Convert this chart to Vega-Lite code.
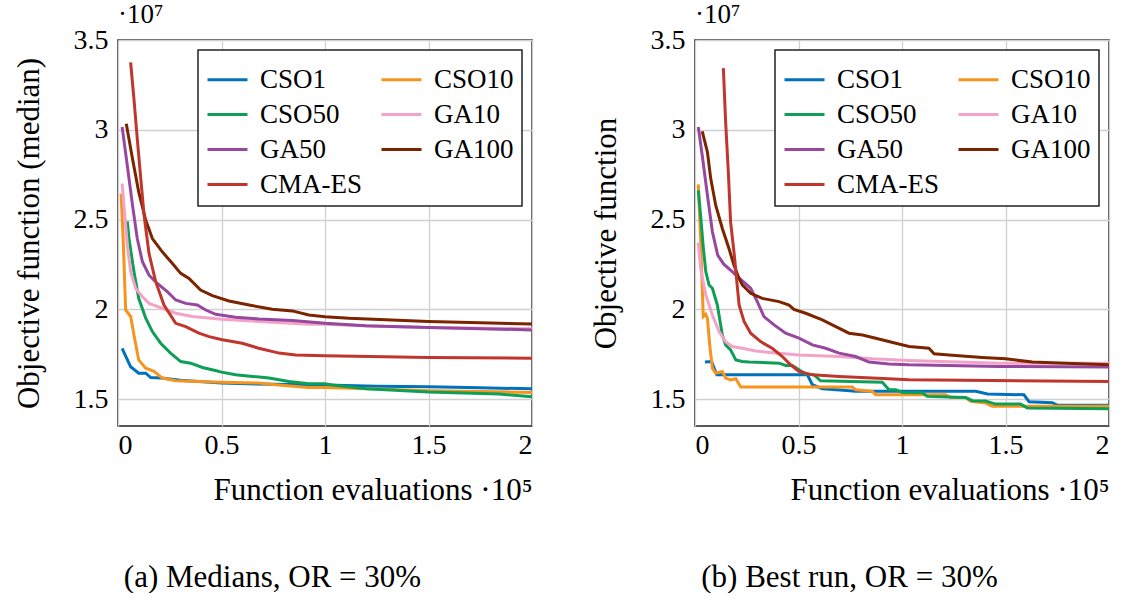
{
  "$schema": "https://vega.github.io/schema/vega-lite/v6.json",
  "background": "white",
  "padding": {"left": 12, "top": 0, "right": 2, "bottom": 0},
  "datasets": {
    "medians": [
      {"alg":"CSO1","x":0.02,"y":1.783},{"alg":"CSO1","x":0.061,"y":1.68},{"alg":"CSO1","x":0.10,"y":1.644},{"alg":"CSO1","x":0.134,"y":1.644},{"alg":"CSO1","x":0.158,"y":1.62},{"alg":"CSO1","x":0.21,"y":1.617},{"alg":"CSO1","x":0.3,"y":1.605},{"alg":"CSO1","x":0.5,"y":1.589},{"alg":"CSO1","x":0.75,"y":1.582},{"alg":"CSO1","x":1.0,"y":1.578},{"alg":"CSO1","x":1.25,"y":1.572},{"alg":"CSO1","x":1.5,"y":1.568},{"alg":"CSO1","x":1.75,"y":1.563},{"alg":"CSO1","x":2.0,"y":1.557},
      {"alg":"CSO10","x":0.015,"y":2.644},{"alg":"CSO10","x":0.025,"y":2.39},{"alg":"CSO10","x":0.037,"y":1.996},{"alg":"CSO10","x":0.061,"y":1.96},{"alg":"CSO10","x":0.077,"y":1.857},{"alg":"CSO10","x":0.10,"y":1.718},{"alg":"CSO10","x":0.134,"y":1.672},{"alg":"CSO10","x":0.174,"y":1.654},{"alg":"CSO10","x":0.214,"y":1.617},{"alg":"CSO10","x":0.279,"y":1.602},{"alg":"CSO10","x":0.5,"y":1.594},{"alg":"CSO10","x":0.68,"y":1.589},{"alg":"CSO10","x":0.76,"y":1.58},{"alg":"CSO10","x":0.92,"y":1.565},{"alg":"CSO10","x":1.0,"y":1.565},{"alg":"CSO10","x":1.25,"y":1.556},{"alg":"CSO10","x":1.5,"y":1.546},{"alg":"CSO10","x":1.75,"y":1.542},{"alg":"CSO10","x":2.0,"y":1.537},
      {"alg":"CSO50","x":0.045,"y":2.49},{"alg":"CSO50","x":0.053,"y":2.394},{"alg":"CSO50","x":0.077,"y":2.21},{"alg":"CSO50","x":0.10,"y":2.061},{"alg":"CSO50","x":0.134,"y":1.95},{"alg":"CSO50","x":0.166,"y":1.876},{"alg":"CSO50","x":0.206,"y":1.811},{"alg":"CSO50","x":0.254,"y":1.756},{"alg":"CSO50","x":0.303,"y":1.709},{"alg":"CSO50","x":0.351,"y":1.70},{"alg":"CSO50","x":0.408,"y":1.676},{"alg":"CSO50","x":0.47,"y":1.659},{"alg":"CSO50","x":0.5,"y":1.65},{"alg":"CSO50","x":0.568,"y":1.635},{"alg":"CSO50","x":0.649,"y":1.626},{"alg":"CSO50","x":0.73,"y":1.617},{"alg":"CSO50","x":0.826,"y":1.598},{"alg":"CSO50","x":0.922,"y":1.585},{"alg":"CSO50","x":1.0,"y":1.585},{"alg":"CSO50","x":1.035,"y":1.578},{"alg":"CSO50","x":1.2,"y":1.557},{"alg":"CSO50","x":1.5,"y":1.539},{"alg":"CSO50","x":1.84,"y":1.528},{"alg":"CSO50","x":2.0,"y":1.513},
      {"alg":"GA10","x":0.02,"y":2.70},{"alg":"GA10","x":0.045,"y":2.357},{"alg":"GA10","x":0.061,"y":2.21},{"alg":"GA10","x":0.085,"y":2.117},{"alg":"GA10","x":0.118,"y":2.07},{"alg":"GA10","x":0.15,"y":2.033},{"alg":"GA10","x":0.214,"y":2.006},{"alg":"GA10","x":0.279,"y":1.978},{"alg":"GA10","x":0.359,"y":1.96},{"alg":"GA10","x":0.5,"y":1.944},{"alg":"GA10","x":0.68,"y":1.932},{"alg":"GA10","x":0.92,"y":1.917},{"alg":"GA10","x":1.0,"y":1.917},{"alg":"GA10","x":1.25,"y":1.905},{"alg":"GA10","x":1.5,"y":1.898},{"alg":"GA10","x":2.0,"y":1.891},
      {"alg":"GA50","x":0.02,"y":3.015},{"alg":"GA50","x":0.045,"y":2.80},{"alg":"GA50","x":0.07,"y":2.58},{"alg":"GA50","x":0.093,"y":2.394},{"alg":"GA50","x":0.118,"y":2.265},{"alg":"GA50","x":0.15,"y":2.19},{"alg":"GA50","x":0.19,"y":2.144},{"alg":"GA50","x":0.238,"y":2.098},{"alg":"GA50","x":0.279,"y":2.052},{"alg":"GA50","x":0.327,"y":2.033},{"alg":"GA50","x":0.383,"y":2.024},{"alg":"GA50","x":0.424,"y":1.996},{"alg":"GA50","x":0.472,"y":1.972},{"alg":"GA50","x":0.568,"y":1.956},{"alg":"GA50","x":0.68,"y":1.946},{"alg":"GA50","x":0.842,"y":1.937},{"alg":"GA50","x":1.0,"y":1.922},{"alg":"GA50","x":1.196,"y":1.909},{"alg":"GA50","x":1.5,"y":1.898},{"alg":"GA50","x":1.75,"y":1.892},{"alg":"GA50","x":2.0,"y":1.885},
      {"alg":"GA100","x":0.04,"y":3.033},{"alg":"GA100","x":0.07,"y":2.839},{"alg":"GA100","x":0.10,"y":2.654},{"alg":"GA100","x":0.134,"y":2.496},{"alg":"GA100","x":0.166,"y":2.394},{"alg":"GA100","x":0.214,"y":2.32},{"alg":"GA100","x":0.262,"y":2.256},{"alg":"GA100","x":0.303,"y":2.2},{"alg":"GA100","x":0.343,"y":2.172},{"alg":"GA100","x":0.399,"y":2.107},{"alg":"GA100","x":0.456,"y":2.076},{"alg":"GA100","x":0.536,"y":2.046},{"alg":"GA100","x":0.633,"y":2.024},{"alg":"GA100","x":0.745,"y":2.0},{"alg":"GA100","x":0.842,"y":1.991},{"alg":"GA100","x":0.922,"y":1.968},{"alg":"GA100","x":1.0,"y":1.959},{"alg":"GA100","x":1.116,"y":1.95},{"alg":"GA100","x":1.5,"y":1.932},{"alg":"GA100","x":1.75,"y":1.925},{"alg":"GA100","x":2.0,"y":1.918},
      {"alg":"CMA-ES","x":0.061,"y":3.376},{"alg":"CMA-ES","x":0.077,"y":3.172},{"alg":"CMA-ES","x":0.093,"y":2.95},{"alg":"CMA-ES","x":0.11,"y":2.728},{"alg":"CMA-ES","x":0.126,"y":2.524},{"alg":"CMA-ES","x":0.15,"y":2.31},{"alg":"CMA-ES","x":0.182,"y":2.154},{"alg":"CMA-ES","x":0.222,"y":2.024},{"alg":"CMA-ES","x":0.279,"y":1.922},{"alg":"CMA-ES","x":0.327,"y":1.904},{"alg":"CMA-ES","x":0.391,"y":1.867},{"alg":"CMA-ES","x":0.44,"y":1.848},{"alg":"CMA-ES","x":0.504,"y":1.83},{"alg":"CMA-ES","x":0.60,"y":1.811},{"alg":"CMA-ES","x":0.68,"y":1.783},{"alg":"CMA-ES","x":0.778,"y":1.756},{"alg":"CMA-ES","x":0.858,"y":1.746},{"alg":"CMA-ES","x":1.0,"y":1.741},{"alg":"CMA-ES","x":1.5,"y":1.732},{"alg":"CMA-ES","x":2.0,"y":1.728}
    ],
    "best": [
      {"alg":"CSO1","x":0.048,"y":1.706},{"alg":"CSO1","x":0.08,"y":1.709},{"alg":"CSO1","x":0.105,"y":1.635},{"alg":"CSO1","x":0.543,"y":1.635},{"alg":"CSO1","x":0.567,"y":1.58},{"alg":"CSO1","x":0.615,"y":1.557},{"alg":"CSO1","x":0.70,"y":1.55},{"alg":"CSO1","x":0.776,"y":1.543},{"alg":"CSO1","x":1.356,"y":1.543},{"alg":"CSO1","x":1.413,"y":1.528},{"alg":"CSO1","x":1.589,"y":1.524},{"alg":"CSO1","x":1.614,"y":1.485},{"alg":"CSO1","x":1.726,"y":1.48},{"alg":"CSO1","x":1.75,"y":1.467},{"alg":"CSO1","x":2.0,"y":1.465},
      {"alg":"CSO10","x":0.016,"y":2.696},{"alg":"CSO10","x":0.027,"y":2.394},{"alg":"CSO10","x":0.035,"y":2.117},{"alg":"CSO10","x":0.04,"y":1.96},{"alg":"CSO10","x":0.052,"y":1.972},{"alg":"CSO10","x":0.06,"y":1.95},{"alg":"CSO10","x":0.071,"y":1.802},{"alg":"CSO10","x":0.084,"y":1.672},{"alg":"CSO10","x":0.10,"y":1.644},{"alg":"CSO10","x":0.132,"y":1.654},{"alg":"CSO10","x":0.148,"y":1.617},{"alg":"CSO10","x":0.172,"y":1.607},{"alg":"CSO10","x":0.197,"y":1.613},{"alg":"CSO10","x":0.221,"y":1.567},{"alg":"CSO10","x":0.76,"y":1.567},{"alg":"CSO10","x":0.776,"y":1.552},{"alg":"CSO10","x":0.857,"y":1.543},{"alg":"CSO10","x":0.873,"y":1.524},{"alg":"CSO10","x":1.211,"y":1.524},{"alg":"CSO10","x":1.235,"y":1.509},{"alg":"CSO10","x":1.307,"y":1.509},{"alg":"CSO10","x":1.332,"y":1.487},{"alg":"CSO10","x":1.404,"y":1.478},{"alg":"CSO10","x":1.436,"y":1.46},{"alg":"CSO10","x":2.0,"y":1.46},
      {"alg":"CSO50","x":0.016,"y":2.663},{"alg":"CSO50","x":0.027,"y":2.524},{"alg":"CSO50","x":0.039,"y":2.357},{"alg":"CSO50","x":0.052,"y":2.21},{"alg":"CSO50","x":0.068,"y":2.135},{"alg":"CSO50","x":0.084,"y":2.117},{"alg":"CSO50","x":0.108,"y":2.024},{"alg":"CSO50","x":0.132,"y":1.857},{"alg":"CSO50","x":0.148,"y":1.802},{"alg":"CSO50","x":0.172,"y":1.774},{"alg":"CSO50","x":0.197,"y":1.718},{"alg":"CSO50","x":0.229,"y":1.709},{"alg":"CSO50","x":0.261,"y":1.706},{"alg":"CSO50","x":0.406,"y":1.70},{"alg":"CSO50","x":0.438,"y":1.687},{"alg":"CSO50","x":0.47,"y":1.687},{"alg":"CSO50","x":0.502,"y":1.663},{"alg":"CSO50","x":0.535,"y":1.639},{"alg":"CSO50","x":0.575,"y":1.635},{"alg":"CSO50","x":0.607,"y":1.602},{"alg":"CSO50","x":0.905,"y":1.594},{"alg":"CSO50","x":0.937,"y":1.552},{"alg":"CSO50","x":0.97,"y":1.552},{"alg":"CSO50","x":1.002,"y":1.536},{"alg":"CSO50","x":1.098,"y":1.535},{"alg":"CSO50","x":1.122,"y":1.515},{"alg":"CSO50","x":1.307,"y":1.509},{"alg":"CSO50","x":1.34,"y":1.491},{"alg":"CSO50","x":1.404,"y":1.489},{"alg":"CSO50","x":1.452,"y":1.472},{"alg":"CSO50","x":1.573,"y":1.472},{"alg":"CSO50","x":1.606,"y":1.45},{"alg":"CSO50","x":2.0,"y":1.446},
      {"alg":"GA10","x":0.016,"y":2.372},{"alg":"GA10","x":0.027,"y":2.228},{"alg":"GA10","x":0.052,"y":2.08},{"alg":"GA10","x":0.084,"y":1.968},{"alg":"GA10","x":0.116,"y":1.876},{"alg":"GA10","x":0.148,"y":1.82},{"alg":"GA10","x":0.18,"y":1.793},{"alg":"GA10","x":0.229,"y":1.783},{"alg":"GA10","x":0.293,"y":1.768},{"alg":"GA10","x":0.39,"y":1.756},{"alg":"GA10","x":0.502,"y":1.746},{"alg":"GA10","x":0.696,"y":1.737},{"alg":"GA10","x":0.857,"y":1.724},{"alg":"GA10","x":1.034,"y":1.715},{"alg":"GA10","x":1.469,"y":1.70},{"alg":"GA10","x":2.0,"y":1.70},
      {"alg":"GA50","x":0.016,"y":3.015},{"alg":"GA50","x":0.035,"y":2.857},{"alg":"GA50","x":0.06,"y":2.635},{"alg":"GA50","x":0.084,"y":2.432},{"alg":"GA50","x":0.11,"y":2.30},{"alg":"GA50","x":0.14,"y":2.25},{"alg":"GA50","x":0.18,"y":2.21},{"alg":"GA50","x":0.215,"y":2.172},{"alg":"GA50","x":0.269,"y":2.117},{"alg":"GA50","x":0.301,"y":2.043},{"alg":"GA50","x":0.333,"y":1.959},{"alg":"GA50","x":0.382,"y":1.913},{"alg":"GA50","x":0.438,"y":1.867},{"alg":"GA50","x":0.502,"y":1.839},{"alg":"GA50","x":0.567,"y":1.802},{"alg":"GA50","x":0.631,"y":1.783},{"alg":"GA50","x":0.696,"y":1.756},{"alg":"GA50","x":0.776,"y":1.737},{"alg":"GA50","x":0.841,"y":1.706},{"alg":"GA50","x":0.937,"y":1.696},{"alg":"GA50","x":1.034,"y":1.691},{"alg":"GA50","x":1.469,"y":1.682},{"alg":"GA50","x":2.0,"y":1.678},
      {"alg":"GA100","x":0.035,"y":2.991},{"alg":"GA100","x":0.06,"y":2.876},{"alg":"GA100","x":0.076,"y":2.728},{"alg":"GA100","x":0.10,"y":2.58},{"alg":"GA100","x":0.132,"y":2.45},{"alg":"GA100","x":0.164,"y":2.339},{"alg":"GA100","x":0.188,"y":2.246},{"alg":"GA100","x":0.213,"y":2.172},{"alg":"GA100","x":0.229,"y":2.135},{"alg":"GA100","x":0.269,"y":2.089},{"alg":"GA100","x":0.325,"y":2.061},{"alg":"GA100","x":0.406,"y":2.043},{"alg":"GA100","x":0.454,"y":2.024},{"alg":"GA100","x":0.478,"y":2.0},{"alg":"GA100","x":0.535,"y":1.978},{"alg":"GA100","x":0.615,"y":1.941},{"alg":"GA100","x":0.68,"y":1.904},{"alg":"GA100","x":0.744,"y":1.867},{"alg":"GA100","x":0.809,"y":1.857},{"alg":"GA100","x":0.873,"y":1.839},{"alg":"GA100","x":0.97,"y":1.811},{"alg":"GA100","x":1.034,"y":1.793},{"alg":"GA100","x":1.13,"y":1.783},{"alg":"GA100","x":1.155,"y":1.752},{"alg":"GA100","x":1.227,"y":1.746},{"alg":"GA100","x":1.388,"y":1.732},{"alg":"GA100","x":1.5,"y":1.724},{"alg":"GA100","x":1.63,"y":1.706},{"alg":"GA100","x":1.79,"y":1.70},{"alg":"GA100","x":2.0,"y":1.691},
      {"alg":"CMA-ES","x":0.137,"y":3.343},{"alg":"CMA-ES","x":0.148,"y":3.043},{"alg":"CMA-ES","x":0.161,"y":2.765},{"alg":"CMA-ES","x":0.172,"y":2.487},{"alg":"CMA-ES","x":0.19,"y":2.30},{"alg":"CMA-ES","x":0.20,"y":2.18},{"alg":"CMA-ES","x":0.213,"y":2.024},{"alg":"CMA-ES","x":0.237,"y":1.932},{"alg":"CMA-ES","x":0.269,"y":1.867},{"alg":"CMA-ES","x":0.317,"y":1.82},{"alg":"CMA-ES","x":0.373,"y":1.783},{"alg":"CMA-ES","x":0.422,"y":1.737},{"alg":"CMA-ES","x":0.462,"y":1.691},{"alg":"CMA-ES","x":0.502,"y":1.654},{"alg":"CMA-ES","x":0.567,"y":1.635},{"alg":"CMA-ES","x":0.696,"y":1.626},{"alg":"CMA-ES","x":0.857,"y":1.617},{"alg":"CMA-ES","x":1.034,"y":1.607},{"alg":"CMA-ES","x":2.0,"y":1.598}
    ]
  },
  "hconcat": [
    {
      "title": {"text": "(a) Medians, OR = 30%", "orient": "bottom", "anchor": "middle", "offset": 57},
      "resolve": {"scale": {"color": "independent"}, "legend": {"color": "independent"}},
      "vconcat": [
        {
          "width": 414,
          "height": 386,
          "data": {"name": "medians"},
          "title": {"text": "·10⁷", "anchor": "start", "frame": "group", "orient": "top", "offset": -3, "fontSize": 27},
          "mark": {"type": "line", "strokeWidth": 3, "clip": true},
          "encoding": {
            "x": {"field": "x", "type": "quantitative", "scale": {"domain": [0, 2], "nice": false, "zero": false},
                  "axis": {"values": [0, 0.5, 1, 1.5, 2], "format": "~g", "title": "Function evaluations ·10⁵", "titleAnchor": "end", "titlePadding": 16, "labelPadding": 5}},
            "y": {"field": "y", "type": "quantitative", "scale": {"domain": [1.35, 3.5], "nice": false, "zero": false},
                  "axis": {"values": [1.5, 2, 2.5, 3, 3.5], "format": "~g", "title": "Objective function (median)", "titlePadding": 28}},
            "color": {"field": "alg", "type": "nominal",
                      "scale": {"domain": ["CSO1", "CSO50", "GA50", "CMA-ES", "CSO10", "GA10", "GA100"],
                                "range": ["#0072BD", "#0E9F57", "#96489E", "#C0362C", "#F7941D", "#F4A3C8", "#7B2400"]},
                      "legend": {"title": null}}
          }
        }
      ]
    },
    {
      "title": {"text": "(b) Best run, OR = 30%", "orient": "bottom", "anchor": "middle", "offset": 57},
      "resolve": {"scale": {"color": "independent"}, "legend": {"color": "independent"}},
      "vconcat": [
        {
          "width": 414,
          "height": 386,
          "data": {"name": "best"},
          "title": {"text": "·10⁷", "anchor": "start", "frame": "group", "orient": "top", "offset": -3, "fontSize": 27},
          "mark": {"type": "line", "strokeWidth": 3, "clip": true},
          "encoding": {
            "x": {"field": "x", "type": "quantitative", "scale": {"domain": [0, 2], "nice": false, "zero": false},
                  "axis": {"values": [0, 0.5, 1, 1.5, 2], "format": "~g", "title": "Function evaluations ·10⁵", "titleAnchor": "end", "titlePadding": 16, "labelPadding": 5}},
            "y": {"field": "y", "type": "quantitative", "scale": {"domain": [1.35, 3.5], "nice": false, "zero": false},
                  "axis": {"values": [1.5, 2, 2.5, 3, 3.5], "format": "~g", "title": "Objective function", "titlePadding": 28}},
            "color": {"field": "alg", "type": "nominal",
                      "scale": {"domain": ["CSO1", "CSO50", "GA50", "CMA-ES", "CSO10", "GA10", "GA100"],
                                "range": ["#0072BD", "#0E9F57", "#96489E", "#C0362C", "#F7941D", "#F4A3C8", "#7B2400"]},
                      "legend": {"title": null}}
          }
        }
      ]
    }
  ],
  "spacing": 56,
  "resolve": {"scale": {"color": "independent"}, "legend": {"color": "independent"}},
  "config": {
    "font": "Liberation Serif",
    "view": {"stroke": "#222222", "strokeWidth": 1.5},
    "title": {"font": "Liberation Serif", "fontSize": 31, "fontWeight": "normal", "color": "#000000"},
    "axis": {
      "labelFont": "Liberation Serif", "labelFontSize": 28, "labelColor": "#000000",
      "titleFont": "Liberation Serif", "titleFontSize": 31, "titleFontWeight": "normal", "titleColor": "#000000",
      "grid": true, "gridColor": "#d0d0d0", "gridWidth": 1.3,
      "domain": false, "ticks": false, "labelPadding": 10
    },
    "legend": {
      "orient": "top-right", "offset": 10, "columns": 2,
      "fillColor": "#ffffff", "strokeColor": "#222222", "strokeWidth": 1.5, "cornerRadius": 0, "padding": 8,
      "symbolType": "stroke", "symbolSize": 1600, "symbolStrokeWidth": 3,
      "labelFont": "Liberation Serif", "labelFontSize": 27, "labelColor": "#000000", "labelOffset": 11,
      "rowPadding": 0, "columnPadding": 12
    }
  }
}
